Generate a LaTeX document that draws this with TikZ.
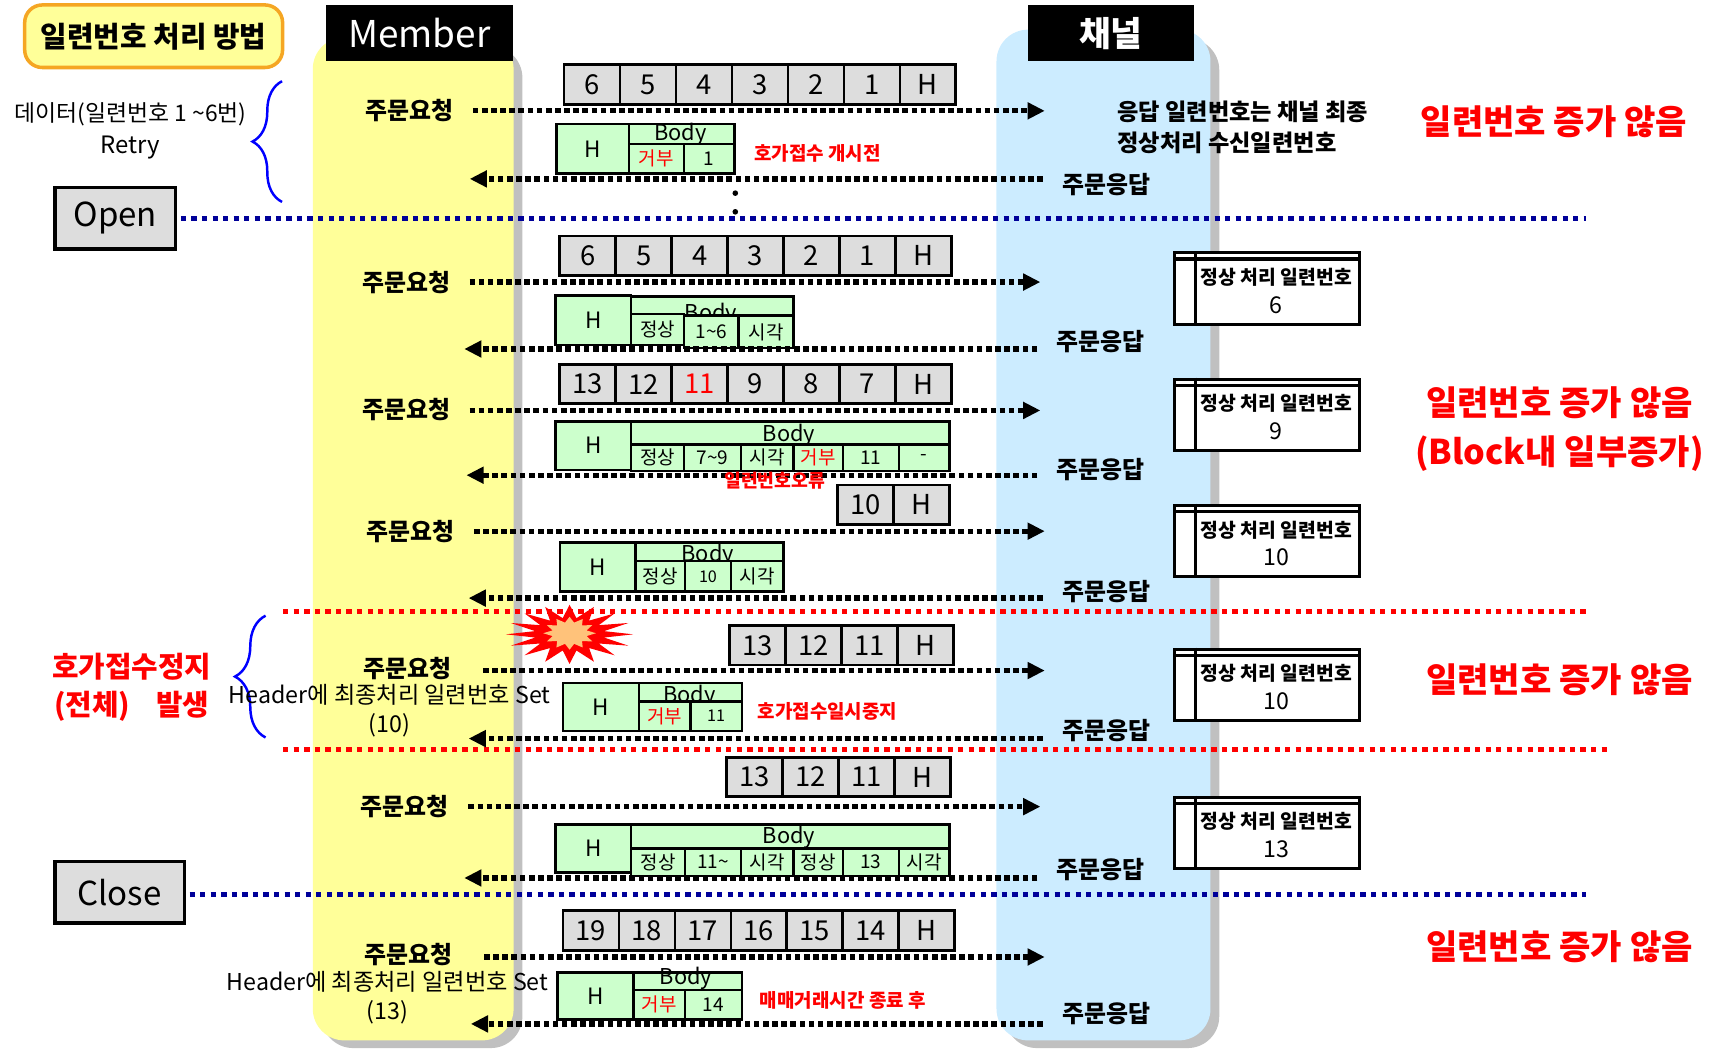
\documentclass[tikz,border=0pt]{standalone}
\usepackage{fontspec}
\setmainfont{Noto Sans CJK KR}
\usetikzlibrary{arrows.meta,decorations.pathreplacing}
\definecolor{laneyel}{HTML}{FFFF99}
\definecolor{laneblue}{HTML}{CCECFF}
\definecolor{lanegray}{HTML}{C0C0C0}
\definecolor{cellgray}{HTML}{DDDDDD}
\definecolor{cellgreen}{HTML}{CCFFCC}
\definecolor{sepnavy}{HTML}{000099}
\definecolor{titleline}{HTML}{F5A623}
\definecolor{burstcore}{HTML}{FFC27A}
\begin{document}
\begin{tikzpicture}[x=0.010974cm,y=-0.010974cm,
    fs/.style={font=\fontsize{#1}{#1}\selectfont},
    fb/.style={font=\fontsize{#1}{#1}\selectfont\bfseries},
    sz/.style 2 args={minimum width=#1*0.010974cm,minimum height=#2*0.010974cm},
    hdr/.style={fill=black,text=white,anchor=north west,inner sep=0pt},
    cell/.style={draw,line width=0.8pt,fill=cellgray,inner sep=0pt,sz={51}{36},fs=7.8},
    gbox/.style={draw,line width=0.7pt,fill=cellgreen,inner sep=0pt,anchor=north west,fs=5.4},
    bodytxt/.style={anchor=base,inner sep=0pt,fs=6.2},
    store/.style={draw,line width=0.9pt,fill=white,anchor=north west,inner sep=0pt,sz={168}{65}},
    req/.style={line width=1.5pt,dash pattern=on 1.6pt off 1pt,shorten <=2pt,
                -{Triangle[length=4.9pt,width=4.6pt]}},
    sepline/.style={line width=1.4pt,dash pattern=on 1.5pt off 1.5pt},
    brc/.style={blue,line width=0.7pt,decorate,decoration={brace,amplitude=#1}},
    note/.style={text=red,fb=5.4},
    bigred/.style={text=red,align=center,font=\fontsize{9.7}{13.7}\selectfont\bfseries}
  ]
  \useasboundingbox (0,0) rectangle (1560,955);
  % lanes
  \fill[lanegray,rounded corners=9pt] (293,42) rectangle (476,955);
  \fill[laneyel,rounded corners=9pt] (285,34) rectangle (468,948);
  \fill[lanegray,rounded corners=9pt] (916,35) rectangle (1111,955);
  \fill[laneblue,rounded corners=9pt] (908,27) rectangle (1103,948);
  \node[hdr,sz={171}{51},fs=10.5] (member) at (296,4) {Member};
  \node[hdr,sz={151}{51},fb=9.8] (chan) at (936,4) {채널};

  % left side
  \node[draw=titleline,fill=laneyel,line width=1pt,rounded corners=5pt,sz={235}{57},fb=8.2] (title) at (140,33) {일련번호 처리 방법};
  \node[fs=6.5] (data) at (119,104) {데이터(일련번호 1 \textasciitilde6번)};
  \node[fs=6.8] (retry) at (119,134) {Retry};
  \draw[brc=8.4pt] (257,184) -- (257,74);
  \node[draw,line width=1pt,fill=cellgray,sz={110}{56},fs=9.4] (open) at (105,199) {Open};
  \node[text=red,align=center,font=\fontsize{8.2}{10.9}\selectfont\bfseries] (stop) at (120,626) {호가접수정지\\(전체)\hspace{0.9em}발생};
  \draw[brc=8.7pt] (242,672) -- (242,561);
  \node[draw,line width=1pt,fill=cellgray,sz={118}{56},fs=9.4] (close) at (109,813) {Close};

  % separators
  \coordinate (ol) at (1445,199);
  \coordinate (cl) at (1445,815);
  \coordinate (rl1a) at (258,557);
  \coordinate (rl1b) at (1448,557);
  \coordinate (rl2a) at (258,683);
  \coordinate (rl2b) at (1465,683);
  \draw[sepline,sepnavy,shorten <=1pt] (open.east |- ol) -- (ol);
  \draw[sepline,sepnavy,shorten <=1pt] (close.east |- cl) -- (cl);
  \draw[sepline,red] (rl1a) -- (rl1b);
  \draw[sepline,red] (rl2a) -- (rl2b);
  \fill (670,176) circle (0.8pt);
  \fill (670,193) circle (0.8pt);

  % request packets
  \foreach \t [count=\i] in {6,5,4,3,2,1,H} \node[cell] (p1\i) at (514+51*\i-25.5,77) {\t};
  \foreach \t [count=\i] in {6,5,4,3,2,1,H} \node[cell] (p2\i) at (510+51*\i-25.5,233) {\t};
  \foreach \t [count=\i] in {13,12,{\color{red}11},9,8,7,H} \node[cell] (p3\i) at (510+51*\i-25.5,350) {\t};
  \foreach \t [count=\i] in {10,H} \node[cell] (p4\i) at (763+51*\i-25.5,460) {\t};
  \foreach \t [count=\i] in {13,12,11,H} \node[cell] (p5\i) at (665+51*\i-25.5,588) {\t};
  \foreach \t [count=\i] in {13,12,11,H} \node[cell] (p6\i) at (662+51*\i-25.5,708) {\t};
  \foreach \t [count=\i] in {19,18,17,16,15,14,H} \node[cell] (p7\i) at (513+51*\i-25.5,848) {\t};

  % response packets
  \node[gbox,sz={66}{45},fs=6.4] (h1) at (506,112) {H};
  \node[gbox,sz={96}{18}] (b1) at (572,112) {};
  \node[bodytxt] (bt1) at (620,128) {Body};
  \node[gbox,sz={50}{27},text=red] (c11) at (572,130) {거부};
  \node[gbox,sz={46}{27}] (c12) at (622,130) {1};

  \node[gbox,sz={69}{45},fs=6.4] (h2) at (505,268) {H};
  \node[gbox,sz={148}{17}] (b2) at (574,269) {};
  \node[bodytxt] (bt2) at (648,292) {Body};
  \node[gbox,sz={48}{28}] (c21) at (574,285) {정상};
  \node[gbox,sz={50}{29}] (c22) at (622,287) {1\textasciitilde6};
  \node[gbox,sz={50}{29}] (c23) at (672,287) {시각};

  \node[gbox,sz={69}{44},fs=6.4] (h3) at (505,383) {H};
  \node[gbox,sz={290}{21}] (b3) at (574,383) {};
  \node[bodytxt] (bt3) at (719,402) {Body};
  \node[gbox,sz={48}{24}] (c31) at (574,404) {정상};
  \node[gbox,sz={52}{24}] (c32) at (622,404) {7\textasciitilde9};
  \node[gbox,sz={48}{24}] (c33) at (674,404) {시각};
  \node[gbox,sz={45}{24},text=red] (c34) at (722,404) {거부};
  \node[gbox,sz={51}{24}] (c35) at (767,404) {11};
  \node[gbox,sz={46}{24}] (c36) at (818,404) {-};

  \node[gbox,sz={69}{45},fs=6.4] (h4) at (509,493) {H};
  \node[gbox,sz={135}{17}] (b4) at (578,493) {};
  \node[bodytxt] (bt4) at (645,512) {Body};
  \node[gbox,sz={45}{28}] (c41) at (578,510) {정상};
  \node[gbox,sz={42}{28},fs=4.6] (c42) at (623,510) {10};
  \node[gbox,sz={48}{28}] (c43) at (665,510) {시각};

  \node[gbox,sz={69}{44},fs=6.4] (h5) at (512,621) {H};
  \node[gbox,sz={94}{17}] (b5) at (581,621) {};
  \node[bodytxt] (bt5) at (628,640) {Body};
  \node[gbox,sz={47}{27},text=red] (c51) at (581,638) {거부};
  \node[gbox,sz={47}{27},fs=4.6] (c52) at (628,638) {11};

  \node[gbox,sz={69}{44},fs=6.4] (h6) at (505,750) {H};
  \node[gbox,sz={290}{22}] (b6) at (574,750) {};
  \node[bodytxt] (bt6) at (719,769) {Body};
  \node[gbox,sz={49}{25}] (c61) at (574,772) {정상};
  \node[gbox,sz={51}{25}] (c62) at (623,772) {11\textasciitilde};
  \node[gbox,sz={48}{25}] (c63) at (674,772) {시각};
  \node[gbox,sz={45}{25}] (c64) at (722,772) {정상};
  \node[gbox,sz={51}{25}] (c65) at (767,772) {13};
  \node[gbox,sz={46}{25}] (c66) at (818,772) {시각};

  \node[gbox,sz={69}{43},fs=6.4] (h7) at (507,885) {H};
  \node[gbox,sz={99}{16}] (b7) at (576,885) {};
  \node[bodytxt] (bt7) at (625,897) {Body};
  \node[gbox,sz={47}{27},text=red] (c71) at (576,901) {거부};
  \node[gbox,sz={52}{27}] (c72) at (623,901) {14};

  % stores
  \foreach \n/\y/\v in {1/229/6,2/344/9,3/459/10,4/590/10,5/725/13}{
    \node[store] (s\n) at (1069,\y) {};
    \draw[line width=0.9pt] (s\n.north west) ++(0,7) -- ++(168,0);
    \draw[line width=0.9pt] (s\n.north west) ++(20,0) -- ++(0,65);
    \node[align=center,inner sep=0pt,font=\fontsize{5.5}{8.1}\selectfont\bfseries] (st\n) at (1163,\y+36)
      {정상 처리 일련번호\\{\fontsize{6.6}{8.1}\selectfont\mdseries \v}};
  }

  % requests
  \node[fb=6.8] (q1) at (373,101) {주문요청};
  \node[fb=6.8] (q2) at (370,257) {주문요청};
  \node[fb=6.8] (q3) at (370,373) {주문요청};
  \node[fb=6.8] (q4) at (374,484) {주문요청};
  \node[fb=6.8] (q5) at (371,609) {주문요청};
  \node[fb=6.8] (q6) at (369,735) {주문요청};
  \node[fb=6.8] (q7) at (372,870) {주문요청};
  \coordinate (q1e) at (952,101);
  \coordinate (q2e) at (948,257);
  \coordinate (q3e) at (948,374);
  \coordinate (q4e) at (952,484);
  \coordinate (q5e) at (952,611);
  \coordinate (q6e) at (948,735);
  \coordinate (q7e) at (952,872);
  \draw[req] (q1.east |- q1e) -- (q1e);
  \draw[req] (q2.east |- q2e) -- (q2e);
  \draw[req] (q3.east |- q3e) -- (q3e);
  \draw[req] (q4.east |- q4e) -- (q4e);
  \draw[req,shorten <=5.5pt] (q5.east |- q5e) -- (q5e);
  \draw[req] (q6.east |- q6e) -- (q6e);
  \draw[req,shorten <=5.5pt] (q7.east |- q7e) -- (q7e);

  % responses
  \node[fb=6.8] (a1) at (1008,168) {주문응답};
  \node[fb=6.8] (a2) at (1003,311) {주문응답};
  \node[fb=6.8] (a3) at (1003,428) {주문응답};
  \node[fb=6.8] (a4) at (1008,539) {주문응답};
  \node[fb=6.8] (a5) at (1008,666) {주문응답};
  \node[fb=6.8] (a6) at (1003,792) {주문응답};
  \node[fb=6.8] (a7) at (1008,924) {주문응답};
  \coordinate (r1) at (428,163);
  \coordinate (r2) at (423,318);
  \coordinate (r3) at (425,433);
  \coordinate (r4) at (427,545);
  \coordinate (r5) at (427,673);
  \coordinate (r6) at (423,800);
  \coordinate (r7) at (429,933);
  \draw[req] (a1.west |- r1) -- (r1);
  \draw[req] (a2.west |- r2) -- (r2);
  \draw[req] (a3.west |- r3) -- (r3);
  \draw[req] (a4.west |- r4) -- (r4);
  \draw[req] (a5.west |- r5) -- (r5);
  \draw[req] (a6.west |- r6) -- (r6);
  \draw[req] (a7.west |- r7) -- (r7);

  % burst
  \fill[red] plot[samples at={0,...,31}] ({519+((mod(\x,2)==0)?58:32)*cos(\x*11.25)},{578+((mod(\x,2)==0)?27:15)*sin(\x*11.25)}) -- cycle;
  \fill[burstcore] plot[samples at={0,...,23}] ({519+((mod(\x,2)==0)?24:16)*cos(\x*15)},{577+((mod(\x,2)==0)?15:10)*sin(\x*15)}) -- cycle;

  % notes
  \node[fs=6.6] (hd5) at (355,633) {Header에 최종처리 일련번호 Set};
  \node[fs=6.6] (hd5n) at (355,661) {(10)};
  \node[fs=6.6] (hd7) at (353,895) {Header에 최종처리 일련번호 Set};
  \node[fs=6.6] (hd7n) at (353,922) {(13)};
  \node[note] (n1) at (745,140) {호가접수 개시전};
  \node[text=red,fb=5.2] (n3) at (706,438) {일련번호오류};
  \node[note] (n5) at (754,648) {호가접수일시중지};
  \node[note] (n7) at (768,912) {매매거래시간 종료 후};
  \node[fb=6.6,align=left,anchor=west,font=\fontsize{6.6}{9}\selectfont\bfseries] (chtxt) at (1007,116) {응답 일련번호는 채널 최종\\정상처리 수신일련번호};

  % results
  \node[bigred] (res1) at (1416,111) {일련번호 증가 않음};
  \node[bigred] (res3) at (1421,391) {일련번호 증가 않음\\(Block내 일부증가)};
  \node[bigred] (res5) at (1421,619) {일련번호 증가 않음};
  \node[bigred] (res7) at (1421,863) {일련번호 증가 않음};
\end{tikzpicture}
\end{document}
